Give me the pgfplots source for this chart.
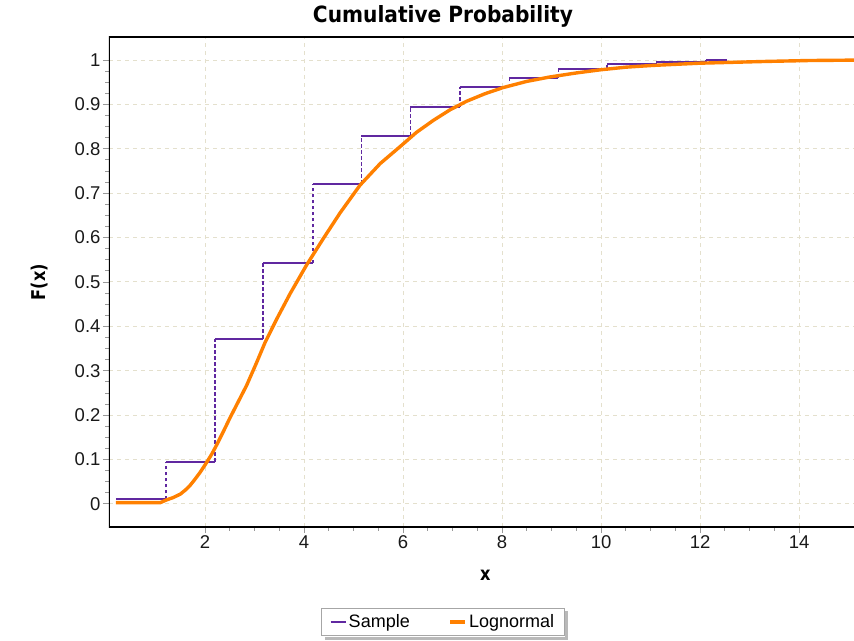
\documentclass[border=0pt]{standalone}
\usepackage{fontspec}
\setmainfont{Liberation Sans}
\newfontfamily\titlefont[FakeStretch=0.85]{DejaVu Sans}
\usepackage{graphicx}
\usepackage{pgfplots}
\pgfplotsset{compat=1.18}
\definecolor{samplec}{RGB}{96,40,160}
\definecolor{lognc}{RGB}{255,128,0}
\definecolor{gridc}{RGB}{228,224,205}
\begin{document}
\begin{tikzpicture}
\begin{axis}[
  name=ax,
  scale only axis,
  width=745pt, height=490pt,
  xmin=0.06, xmax=15.11,
  ymin=-0.052, ymax=1.052,
  axis line style={draw=none},
  xtick={2,4,...,14},
  minor x tick num=3,
  ytick={0,0.1,0.2,0.3,0.4,0.5,0.6,0.7,0.8,0.9,1},
  yticklabels={0,0.1,0.2,0.3,0.4,0.5,0.6,0.7,0.8,0.9,1},
  minor y tick num=3,
  xtick pos=left, ytick pos=left,
  tick align=outside,
  major tick length=6pt, minor tick length=3.5pt,
  tick style={color=gray!80, line width=0.9pt},
  grid=major,
  major grid style={color=gridc, dash pattern=on 4pt off 4pt, line width=1pt},
  ticklabel style={font=\fontsize{18.5}{20}\selectfont, color=black!90},
  /pgf/number format/assume math mode=true,
  xticklabel style={yshift=1pt},
  yticklabel style={xshift=1pt},
  title={\resizebox{260pt}{17pt}{\titlefont\bfseries Cumulative Probability}},
  title style={at={(axis description cs:0.4483,1.029)}, anchor=center},
  xlabel={\titlefont\bfseries\fontsize{19}{21}\selectfont x},
  xlabel style={at={(axis description cs:0.505,-0.098)}, anchor=center},
  ylabel={\titlefont\bfseries\fontsize{19}{21}\selectfont F(x)},
  ylabel style={at={(axis description cs:-0.0926,0.5)}, anchor=center, rotate=0},
  unbounded coords=jump,
  legend columns=2,
  legend style={name=leg, at={(axis description cs:0.4483,-0.194)}, anchor=center,
    draw=gray!70, line width=0.8pt, fill=white,
    font=\fontsize{18}{20}\selectfont,
    inner xsep=8pt, inner ysep=4.5pt,
    /tikz/every even column/.append style={column sep=37pt}},
  legend image code/.code={\draw[#1] (0pt,0pt) -- (15pt,0pt);},
]
% vertical dashed parts of the sample ECDF
\addplot[samplec, line width=1.9pt, dash pattern=on 3.5pt off 2.5pt, forget plot] table {
x y
1.21 0.01
1.21 0.095
nan nan
2.21 0.095
2.21 0.372
nan nan
3.18 0.372
3.18 0.542
nan nan
4.19 0.542
4.19 0.721
nan nan
5.16 0.721
5.16 0.83
nan nan
6.15 0.83
6.15 0.895
nan nan
7.15 0.895
7.15 0.939
nan nan
8.15 0.939
8.15 0.96
nan nan
9.14 0.96
9.14 0.98
nan nan
10.12 0.98
10.12 0.991
nan nan
11.12 0.991
11.12 0.996
nan nan
12.12 0.996
12.12 1.0
};
% horizontal solid parts
\addplot[samplec, line width=2pt] table {
x y
0.2 0.01
1.21 0.01
nan nan
1.21 0.095
2.21 0.095
nan nan
2.21 0.372
3.18 0.372
nan nan
3.18 0.542
4.19 0.542
nan nan
4.19 0.721
5.16 0.721
nan nan
5.16 0.83
6.15 0.83
nan nan
6.15 0.895
7.15 0.895
nan nan
7.15 0.939
8.15 0.939
nan nan
8.15 0.96
9.14 0.96
nan nan
9.14 0.98
10.12 0.98
nan nan
10.12 0.991
11.12 0.991
nan nan
11.12 0.996
12.12 0.996
nan nan
12.12 1.0
12.55 1.0
};
\addlegendentry{Sample}
\addplot[lognc, line width=3.4pt] coordinates {
(0.2,0.003) (1.1,0.003) (1.22,0.009) (1.35,0.014) (1.5,0.022) (1.6,0.031) (1.7,0.042) (1.8,0.056) (1.9,0.071) (2.03,0.093)
(2.14,0.113) (2.24,0.134) (2.37,0.163) (2.5,0.193) (2.67,0.23) (2.84,0.267) (3.04,0.318) (3.21,0.363) (3.45,0.417) (3.72,0.474)
(4.05,0.538) (4.39,0.598) (4.73,0.656) (5.13,0.718) (5.54,0.767) (5.94,0.805) (6.27,0.837) (6.61,0.864)
(6.95,0.888) (7.28,0.907) (7.65,0.924) (8.02,0.938) (8.5,0.952) (8.97,0.962) (9.5,0.971) (9.98,0.978) (10.5,0.984) (11.05,0.988) (12,0.993) (13.35,0.997)
(14.2,0.999) (15.2,1.0)
};
\addlegendentry{Lognormal\hspace{12pt}}
\draw[black, line width=1.6pt] (rel axis cs:1,1) -- (rel axis cs:0,1) -- (rel axis cs:0,0) -- (rel axis cs:1,0);
\end{axis}
% legend shadow (outside the box, right and bottom)
\fill[gray!55] ([xshift=3.5pt]leg.north east) ++(0,-3.5pt) rectangle ([xshift=0.4pt,yshift=-0.4pt]leg.south east);
\fill[gray!55] ([xshift=3.5pt,yshift=-3.5pt]leg.south east) rectangle ([xshift=3.5pt,yshift=-0.4pt]leg.south west);
\pgfresetboundingbox
\path (ax.south west) ++(-109pt,-113pt) rectangle ++(854pt,640pt);
\end{tikzpicture}
\end{document}
